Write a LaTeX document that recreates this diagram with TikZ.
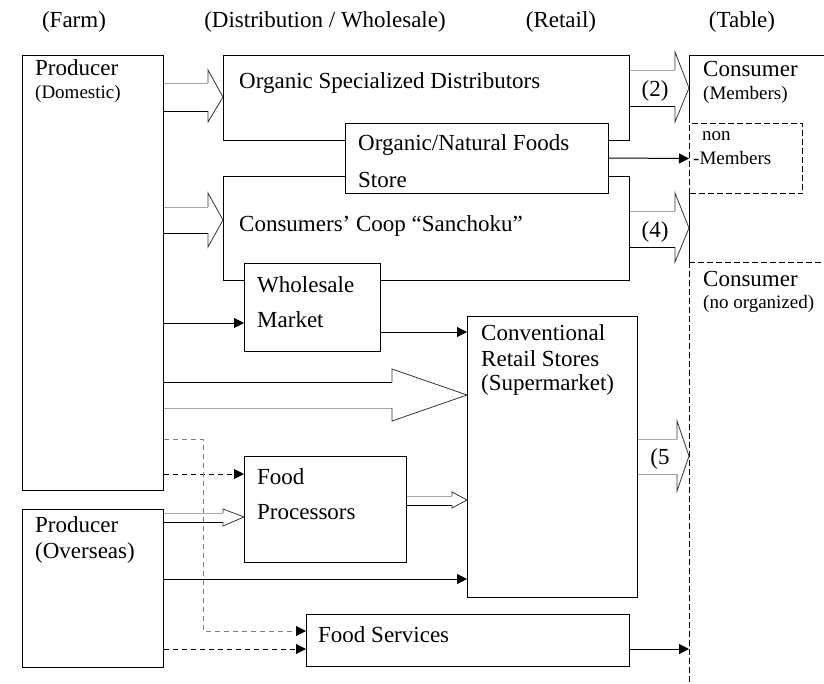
\documentclass[tikz,border=0pt]{standalone}
\usepackage{fontspec}
\setmainfont{Liberation Serif}
\usetikzlibrary{arrows.meta}
\begin{document}
\begin{tikzpicture}[x=1pt,y=-1pt,
  box/.style={draw, line width=1pt, fill=white, inner sep=0pt, anchor=north west},
  dbox/.style={box, dash pattern=on 6pt off 3pt},
  txt/.style={anchor=west, inner sep=0pt, font=\fontsize{23}{27}\selectfont},
  ctxt/.style={txt, anchor=center},
  small/.style={anchor=west, inner sep=0pt, font=\fontsize{19}{22}\selectfont},
  conn/.style={line width=1pt, -{Triangle[length=10pt,width=10pt]}},
  dconn/.style={conn, dash pattern=on 5pt off 4pt},
  gdconn/.style={line width=1pt, draw=gray, dash pattern=on 5pt off 4pt, -{Triangle[length=10pt,width=10pt,color=black]}},
  bline/.style={line width=1pt},
  gline/.style={line width=1pt, draw=gray!70},
  dline/.style={line width=1pt, dash pattern=on 6pt off 3pt},
  head/.style={line width=0.8pt, draw=black!80, line join=miter}
]
\useasboundingbox (0,0) rectangle (824,683);

% headers
\node[ctxt] (hfarm) at (74,22) {(Farm)};
\node[ctxt] (hdist) at (325,22) {(Distribution / Wholesale)};
\node[ctxt] (hret) at (561,22) {(Retail)};
\node[ctxt] (htab) at (742,22) {(Table)};

% boxes
\node[box, minimum width=141pt, minimum height=435pt] (prodD) at (22,55) {};
\node[box, minimum width=406pt, minimum height=85pt] (osd) at (223,55) {};
\node[box, minimum width=406pt, minimum height=104pt] (coop) at (223,176) {};
\node[box, minimum width=263pt, minimum height=70pt] (onf) at (345,123) {};
\node[box, minimum width=136pt, minimum height=88pt] (wm) at (244,263) {};
\node[box, minimum width=170pt, minimum height=281pt] (conv) at (467,316) {};
\node[box, minimum width=162pt, minimum height=106pt] (fp) at (244,456) {};
\node[box, minimum width=141pt, minimum height=158pt] (prodO) at (22,509) {};
\node[box, minimum width=323pt, minimum height=52pt] (fs) at (306,614) {};
\node[dbox, minimum width=113pt, minimum height=70pt] (nonm) at (689,123) {};

% consumer column
\coordinate (ctl) at (689,55);
\coordinate (ctr) at (824,55);
\coordinate (cmid) at (689,262);
\coordinate (cmidr) at (824,262);
\coordinate (cbot) at (689,683);
\draw[bline] (ctr) -- (ctl) -- (nonm.north west);
\draw[bline] (nonm.south west) -- (cmid);
\draw[dline] (cmid) -- (cmidr);
\draw[dline] (cmid) -- (cbot);

% texts
\node[txt] (tprodD) at (35,68) {Producer};
\node[small] (tdom) at (35,94) {(Domestic)};
\node[txt] (tosd) at (239,83) {Organic Specialized Distributors};
\node[txt] (tonf1) at (358,145) {Organic/Natural Foods};
\node[txt] (tonf2) at (358,180) {Store};
\node[txt] (tcoop) at (239,226) {Consumers’ Coop “Sanchoku”};
\node[txt] (twm1) at (257,285) {Wholesale};
\node[txt] (twm2) at (257,320) {Market};
\node[txt] (tconv1) at (481,333) {Conventional};
\node[txt] (tconv2) at (481,359) {Retail Stores};
\node[txt] (tconv3) at (481,385) {(Supermarket)};
\node[txt] (tfp1) at (257,477) {Food};
\node[txt] (tfp2) at (257,512) {Processors};
\node[txt] (tprodO1) at (35,525) {Producer};
\node[txt] (tprodO2) at (35,553) {(Overseas)};
\node[txt] (tfs) at (318,635) {Food Services};
\node[txt] (tcons1) at (703,69) {Consumer};
\node[small] (tmem) at (703,95) {(Members)};
\node[small] (tnon1) at (702,136) {non};
\node[small] (tnon2) at (693,158) {-Members};
\node[txt] (tcons2) at (703,279) {Consumer};
\node[small] (tnoorg) at (703,304) {(no organized)};

% block arrows
% Producer -> OSD
\draw[gline] (prodD.east |- 0,83) -- (208,83);
\draw[bline] (prodD.east |- 0,111) -- (208,111);
\draw[head] (208,83) -- (208,70) -- (osd.west |- 0,97) -- (208,122) -- (208,111);
% Producer -> Coop
\draw[gline] (prodD.east |- 0,207) -- (208,207);
\draw[bline] (prodD.east |- 0,233) -- (208,233);
\draw[head] (208,207) -- (208,193) -- (coop.west |- 0,220) -- (208,247) -- (208,233);
% OSD -> Consumer (2)
\draw[gline] (osd.east |- 0,70) -- (675,70);
\draw[bline] (osd.east |- 0,106) -- (675,106);
\draw[head] (675,70) -- (675,52) -- (ctl |- 0,88) -- (675,122) -- (675,106);
\node[ctxt] (l2) at (655,91) {(2)};
% Coop -> Consumer (4)
\draw[gline] (coop.east |- 0,211) -- (675,211);
\draw[bline] (coop.east |- 0,247) -- (675,247);
\draw[head] (675,211) -- (675,193) -- (ctl |- 0,228) -- (675,262) -- (675,247);
\node[ctxt] (l4) at (655,232) {(4)};
% Producer -> Conventional (big)
\draw[bline] (prodD.east |- 0,382) -- (392,382);
\draw[gline] (prodD.east |- 0,408) -- (392,408);
\draw[head] (392,382) -- (392,369) -- (conv.west |- 0,395) -- (392,421) -- (392,408);
% Conventional -> Consumer (5
\draw[gline] (conv.east |- 0,439) -- (677,439);
\draw[gline] (conv.east |- 0,474) -- (677,474);
\draw[head] (677,439) -- (677,421) -- (ctl |- 0,456) -- (677,491) -- (677,474);
\node[ctxt] (l5) at (660,459) {(5};
% Food processors -> Conventional (small)
\draw[gline] (fp.east |- 0,496) -- (452,496);
\draw[bline] (fp.east |- 0,505) -- (452,505);
\draw[head] (452,496) -- (452,492) -- (conv.west |- 0,500) -- (452,508) -- (452,505);
% Producer overseas -> Food processors (small)
\draw[gline] (prodO.east |- 0,513) -- (223,513);
\draw[bline] (prodO.east |- 0,522) -- (223,522);
\draw[head] (223,513) -- (223,509) -- (fp.west |- 0,517) -- (223,526) -- (223,522);

% simple connectors
\draw[conn] (prodD.east |- 0,323) -- (wm.west |- 0,323);
\draw[conn] (wm.east |- 0,332) -- (conv.west |- 0,332);
\draw[conn] (onf.east |- 0,158) -- (nonm.west);
\draw[conn] (prodO.east |- 0,579) -- (conv.west |- 0,579);
\coordinate (fsend) at (689,649);
\draw[conn] (fs.east |- fsend) -- (fsend);
\draw[dconn] (prodD.east |- 0,474) -- (fp.west |- 0,474);
\draw[gdconn] (prodD.east |- 0,439) -- (203,439) -- (203,631) -- (fs.west |- 0,631);
\draw[dconn] (prodO.east |- 0,649) -- (fs.west |- 0,649);
\end{tikzpicture}
\end{document}
